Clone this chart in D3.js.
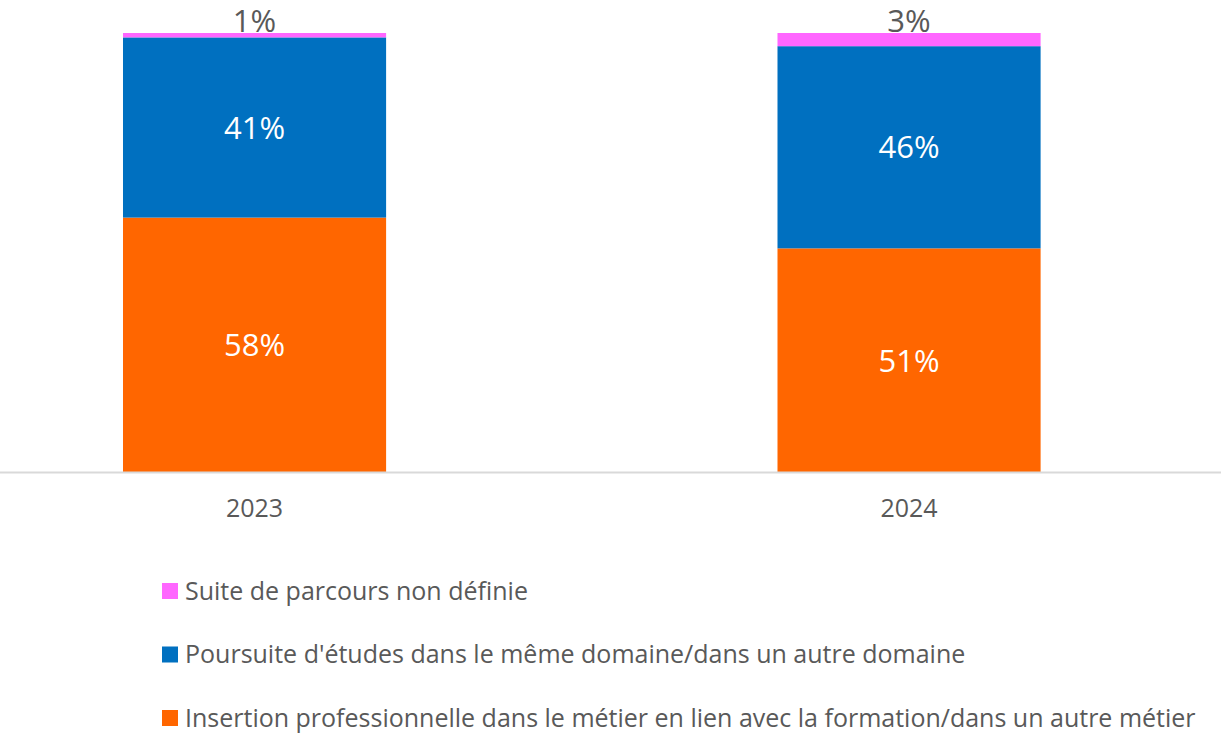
<!DOCTYPE html>
<html>
<head>
<meta charset="utf-8">
<script src="https://cdn.jsdelivr.net/npm/d3@7"></script>
<style>
  body { margin: 0; background: #fff; }
  svg { display: block; font-family: "Open Sans", "Noto Sans", sans-serif; }
</style>
</head>
<body>
<div class="chart"></div>
<script>
// data
const years = ['2023', '2024']
const seriesNames = [
    'Insertion professionnelle dans le métier en lien avec la formation/dans un autre métier',
    'Poursuite d\'études dans le même domaine/dans un autre domaine',
    'Suite de parcours non définie'
]
const insertion = [58, 51]
const poursuite = [41, 46]
const nonDefinie = [1, 3]
const colors = ['#ff6600', '#0070c0', '#ff66ff']

const width = 1221
const height = 734

const rows = years.map((y, i) => ({
    year: y,
    s0: insertion[i],
    s1: poursuite[i],
    s2: nonDefinie[i]
}))

const stack = d3.stack().keys(['s0', 's1', 's2'])
const stacked = stack(rows)

const x = d3.scaleBand()
    .domain(years)
    .range([-72.7, 1236.3])
    .paddingInner(0.598)
    .paddingOuter(0.299)

const y = d3.scaleLinear()
    .domain([0, 100])
    .range([472.5, 33])

const svg = d3.select('.chart')
    .append('svg')
    .attr('width', width)
    .attr('height', height)

// bars
const layer = svg.selectAll('g.layer')
    .data(stacked)
    .enter()
    .append('g')
    .attr('class', 'layer')
    .attr('fill', (d, i) => colors[i])

layer.selectAll('rect')
    .data(d => d)
    .enter()
    .append('rect')
    .attr('x', d => x(d.data.year))
    .attr('width', x.bandwidth())
    .attr('y', d => y(d[1]))
    .attr('height', d => y(d[0]) - y(d[1]))

// value labels
layer.each(function (s, i) {
    d3.select(this).selectAll('text')
        .data(s)
        .enter()
        .append('text')
        .attr('x', d => x(d.data.year) + x.bandwidth() / 2)
        .attr('y', d => i === 2 ? y(d[1]) : (y(d[0]) + y(d[1])) / 2)
        .attr('dy', i === 2 ? '-0.02em' : '0.36em')
        .attr('text-anchor', 'middle')
        .attr('fill', i === 2 ? '#595959' : '#ffffff')
        .style('font-size', '31px')
        .text(d => (d[1] - d[0]) + '%')
})

// x axis
const axis = svg.append('g')
    .attr('transform', 'translate(0,' + y(0) + ')')
    .call(d3.axisBottom(x).tickSize(0).tickPadding(27))

axis.select('.domain').remove()
axis.append('line')
    .attr('x1', 0)
    .attr('x2', width)
    .attr('stroke', '#d9d9d9')
    .attr('stroke-width', 2)
axis.selectAll('.tick text')
    .attr('fill', '#595959')
    .style('font-size', '25px')
    .style('font-family', '"Open Sans", sans-serif')

// legend (top to bottom: reverse stack order)
const legendY = d3.scalePoint()
    .domain([2, 1, 0])
    .range([591, 718])

const legend = svg.selectAll('g.legend')
    .data([2, 1, 0])
    .enter()
    .append('g')
    .attr('class', 'legend')
    .attr('transform', d => 'translate(162,' + legendY(d) + ')')

legend.append('rect')
    .attr('x', 0)
    .attr('y', -8)
    .attr('width', 16)
    .attr('height', 16)
    .attr('fill', d => colors[d])

legend.append('text')
    .attr('x', 23)
    .attr('dy', '0.35em')
    .attr('fill', '#595959')
    .style('font-size', '25px')
    .text(d => seriesNames[d])
</script>
</body>
</html>
